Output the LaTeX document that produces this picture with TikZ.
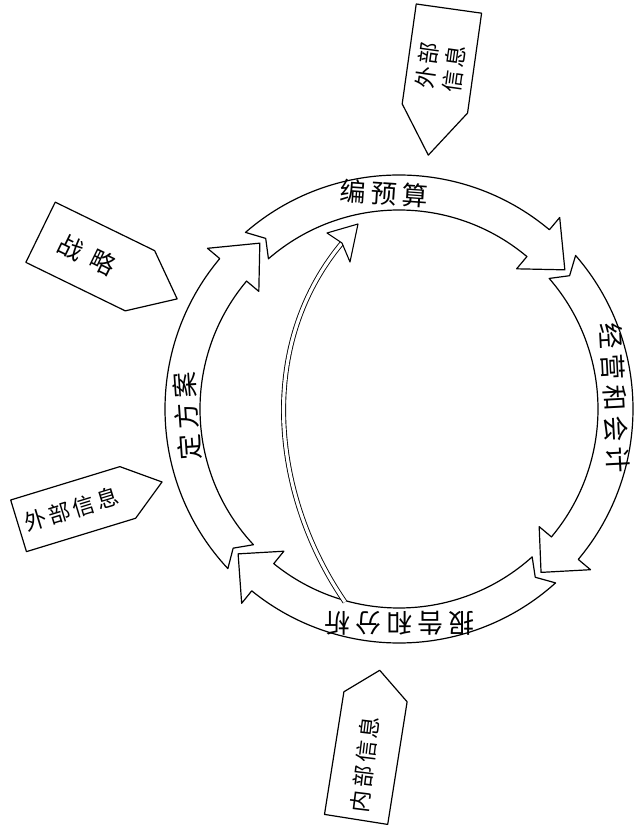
\documentclass[tikz,border=0pt]{standalone}
\usepackage{fontspec}
\setmainfont{Noto Sans CJK SC}
\usepackage{tikz}
\usetikzlibrary{shapes.symbols,calc}
\newcommand{\cgap}{\hspace{5pt}}
\newcommand{\tgap}{\hspace{3pt}}
\newcommand{\rOut}{234pt}
\newcommand{\rIn}{199pt}
\newcommand{\rMid}{216.5pt}
\newcommand{\rBo}{250pt}
\newcommand{\rBi}{183pt}

\begin{document}
\begin{tikzpicture}[x=1pt,y=1pt,
  band/.style={draw,line width=1.2pt,line join=round},
  sig/.style={shape=signal,signal to=east,draw,line width=1.2pt,inner sep=0pt,line join=round},
  lbl/.style={font=\fontsize{26}{30}\selectfont,inner sep=0pt},
  tag/.style={font=\fontsize{22}{27}\selectfont,inner sep=0pt,align=center}]
  \useasboundingbox (-399,-418) rectangle (239,409);
  \foreach \ta/\hb/\tp in {131/50/40,41/-40/-49,-48/-129/-138,223/140/130}
    \draw[band] (\ta:\rOut) arc[start angle=\ta,end angle=\hb,radius=\rOut]
      -- (\hb:\rBo) -- (\tp:\rMid) -- (\hb:\rBi) -- (\hb:\rIn)
      arc[start angle=\hb,end angle=\ta,radius=\rIn] -- ({\ta-3}:\rMid) -- cycle;
  \node[lbl,rotate=-4] (budget) at (94:216pt) {编\cgap 预\cgap 算};
  \node[lbl,rotate=-87] (operate) at (3:216pt) {经\cgap 营\cgap 和\cgap 会\cgap 计};
  \node[lbl,rotate=180] (report) at (-90:214pt) {报\cgap 告\cgap 和\cgap 分\cgap 析};
  \node[lbl,rotate=94] (plan) at (182:212pt) {定\cgap 方\cgap 案};
  \coordinate (fbtail) at (-54,-193);
  \coordinate (fbnotch) at (-57,166);
  \draw[line width=0.9pt,double,double distance=3.2pt] (fbtail) .. controls (-125,-90) and (-145,60) .. (fbnotch);
  \draw[line width=1.1pt,fill=white,line join=round] (fbnotch) -- (-72,176) -- (-41,185) -- (-49,147) -- cycle;
  \node[sig,signal pointer angle=78,minimum width=152pt,minimum height=67pt,rotate=-26,anchor=west] (strat) at (-359,177) {};
  \node[tag,font=\fontsize{25}{30}\selectfont,rotate=-26] (stratlbl) at ($(strat.west)!0.34!(strat.east)$) {战\hspace{11pt}略};
  \node[sig,signal pointer angle=74,minimum width=150pt,minimum height=54pt,rotate=17,anchor=west] (extleft) at (-381,-117) {};
  \node[tag,rotate=17] (extleftlbl) at ($(extleft.west)!0.37!(extleft.east)$) {外\tgap 部\tgap 信\tgap 息};
  \node[sig,signal pointer angle=70,minimum width=148pt,minimum height=66pt,rotate=-98,anchor=west] (exttop) at (50,401) {};
  \node[tag,rotate=82] (exttoplbl) at ($(exttop.west)!0.4!(exttop.east)$) {外\tgap 部\\信\tgap 息};
  \node[sig,signal pointer angle=100,minimum width=151pt,minimum height=64pt,rotate=81,anchor=west] (intbot) at (-43,-411) {};
  \node[tag,rotate=83] (intbotlbl) at ($(intbot.west)!0.37!(intbot.east)$) {内\tgap 部\tgap 信\tgap 息};
\end{tikzpicture}
\end{document}
